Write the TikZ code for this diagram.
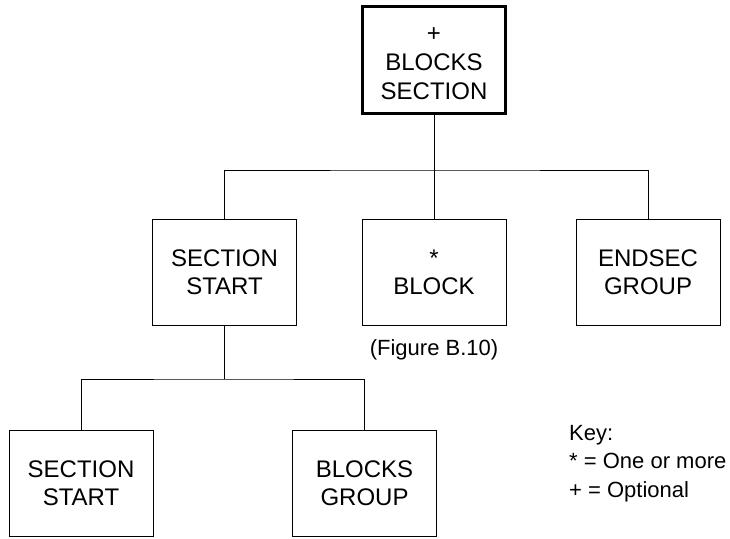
\documentclass[tikz,border=0pt]{standalone}
\usepackage{fontspec}
\setmainfont{Liberation Sans}
\tikzset{
  box/.style={draw, line width=1pt, minimum width=144pt, minimum height=106pt, inner sep=0pt, align=center, font=\fontsize{24}{27.6}\selectfont},
  thickbox/.style={draw, line width=3pt, minimum width=143pt, minimum height=107pt, inner sep=0pt},
  boxtext/.style={inner sep=0pt, align=center, font=\fontsize{24}{29.3}\selectfont},
  conn/.style={line width=1pt},
  keytext/.style={anchor=base west, inner sep=0pt, font=\fontsize{22}{28.5}\selectfont},
}
\begin{document}
\begin{tikzpicture}[x=1pt,y=-1pt]
\useasboundingbox (0,0) rectangle (730,538);
\node[thickbox] (top) at (434,60) {};
\node[boxtext] (toptext) at (434,63.5) {+\\BLOCKS\\SECTION};
\node[box] (ss) at (224.5,272.5) {SECTION\\START};
\node[box] (blk) at (434,272.5) {*\\BLOCK};
\node[box] (eg) at (648,272.5) {ENDSEC\\GROUP};
\node[box] (ss2) at (81,483) {SECTION\\START};
\node[box] (bg) at (364.5,483) {BLOCKS\\GROUP};
\node[anchor=base, inner sep=0pt, font=\fontsize{22}{26}\selectfont] (fig) at (434,355) {(Figure B.10)};
\node[keytext] (k1) at (569,440) {Key:};
\node[keytext] (k2) at (569,468.5) {* = One or more};
\node[keytext] (k3) at (569,497) {+ = Optional};
\coordinate (j1) at (434,170);
\coordinate (j2) at (224.5,379);
\draw[conn] (top.south) -- (blk.north);
\draw[conn] (ss.north) |- (j1) -| (eg.north);
\draw[conn] (ss.south) -- (j2);
\draw[conn] (ss2.north) |- (j2) -| (bg.north);
\end{tikzpicture}
\end{document}
